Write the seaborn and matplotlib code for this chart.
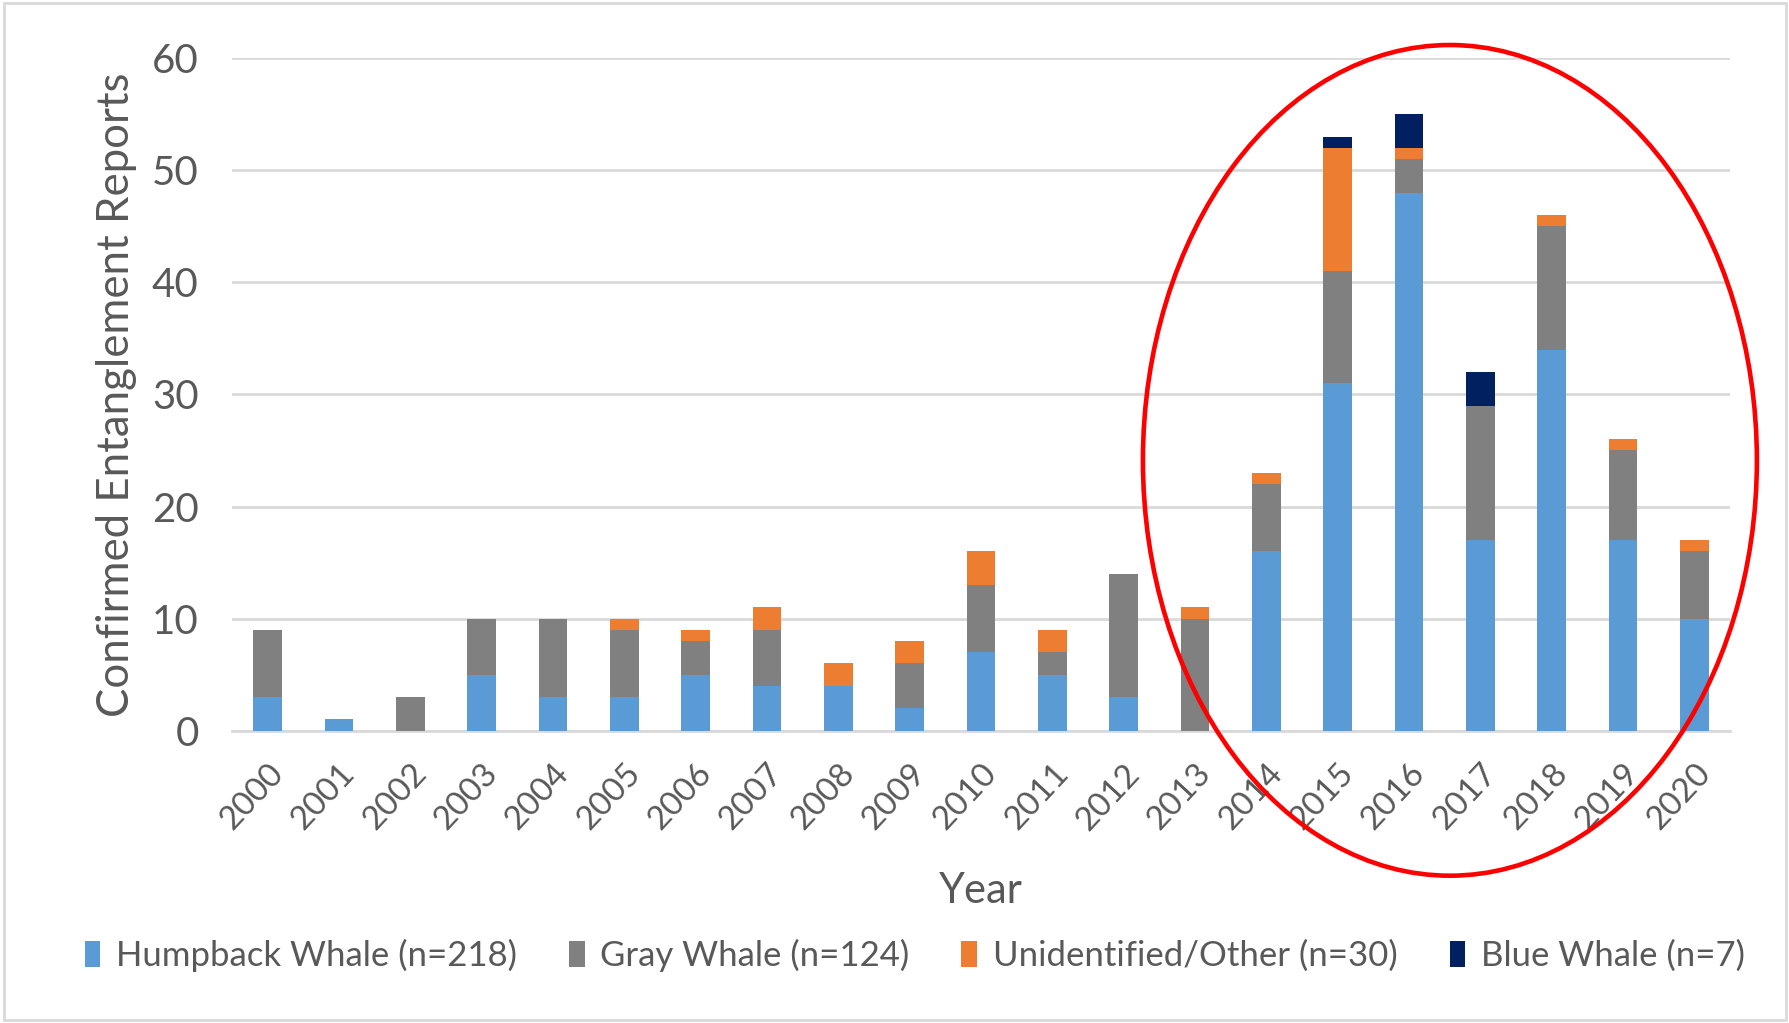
import pandas as pd
import numpy as np
import matplotlib
matplotlib.use('Agg')
import matplotlib.pyplot as plt
import seaborn as sns
from matplotlib.patches import Ellipse, Patch, Rectangle

# Confirmed entanglement reports per year, by species
years = list(range(2000, 2021))
humpback = [3, 1, 0, 5, 3, 3, 5, 4, 4, 2, 7, 5, 3, 0, 16, 31, 48, 17, 34, 17, 10]
gray = [6, 0, 3, 5, 7, 6, 3, 5, 0, 4, 6, 2, 11, 10, 6, 10, 3, 12, 11, 8, 6]
unidentified = [0, 0, 0, 0, 0, 1, 1, 2, 2, 2, 3, 2, 0, 1, 1, 11, 1, 0, 1, 1, 1]
blue = [0, 0, 0, 0, 0, 0, 0, 0, 0, 0, 0, 0, 0, 0, 0, 1, 3, 3, 0, 0, 0]

species = ['Humpback Whale (n=218)', 'Gray Whale (n=124)',
           'Unidentified/Other (n=30)', 'Blue Whale (n=7)']
colors = ['#5B9BD5', '#808080', '#ED7D31', '#002060']
y_ticks = [0, 10, 20, 30, 40, 50, 60]

rows = []
for name, vals in zip(species, [humpback, gray, unidentified, blue]):
    for yr, v in zip(years, vals):
        rows.append({'Year': yr, 'Species': name, 'Reports': v})
df = pd.DataFrame(rows)

sns.set_style('white')
plt.rcParams['font.family'] = ['Lato', 'DejaVu Sans']
text_col = '#595959'

fig = plt.figure(figsize=(17.9, 10.23), dpi=100)
ax = fig.add_axes([0.1296, 0.2858, 0.8369, 0.6572])

# stacked bars; seaborn stacks the last hue level at the bottom
sns.histplot(data=df, x='Year', weights='Reports', hue='Species',
             hue_order=species[::-1], palette=dict(zip(species, colors)),
             multiple='stack', discrete=True, shrink=0.4, alpha=1,
             linewidth=0, legend=False, ax=ax, zorder=3)

ax.set_xlim(1999.5, 2020.5)
ax.set_ylim(0, 60)
ax.set_yticks(y_ticks)
ax.set_xticks(years)
ax.set_xticklabels([str(y) for y in years], rotation=47, ha='right',
                   rotation_mode='anchor')
ax.yaxis.grid(True, color='#D9D9D9', linewidth=2, zorder=0)
ax.set_axisbelow(True)
for s in ['top', 'right', 'left']:
    ax.spines[s].set_visible(False)
ax.spines['bottom'].set_color('#D9D9D9')
ax.spines['bottom'].set_linewidth(2)
ax.tick_params(axis='y', length=0, pad=24, labelsize=29, labelcolor=text_col)
ax.tick_params(axis='x', length=0, pad=20, labelsize=24, labelcolor=text_col)
ax.set_ylabel('Confirmed Entanglement Reports', fontsize=31.5, color=text_col,
              labelpad=11)
ax.set_xlabel('Year', fontsize=30, color=text_col, labelpad=26)

handles = [Patch(facecolor=c, edgecolor='none') for c in colors]
fig.legend(handles, species, loc='center', bbox_to_anchor=(0.511, 0.066),
           ncol=4, frameon=False, fontsize=25, handlelength=0.45,
           handleheight=0.75, handletextpad=0.45, columnspacing=1.5,
           labelcolor=text_col)

# red highlight ellipse and light frame around the chart
fig.add_artist(Ellipse((0.810, 0.550), 0.343, 0.812, transform=fig.transFigure,
                       fill=False, edgecolor='#FF0000', linewidth=3.3, zorder=10))
fig.add_artist(Rectangle((0.002, 0.003), 0.996, 0.994, transform=fig.transFigure,
                         fill=False, edgecolor='#D9D9D9', linewidth=2))

fig.savefig('out.png', dpi=100)
